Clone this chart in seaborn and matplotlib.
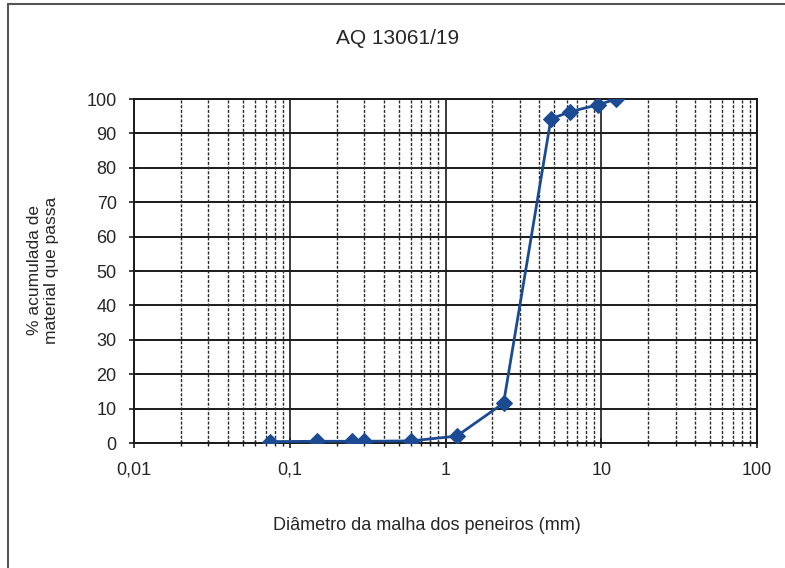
import numpy as np
import pandas as pd
import matplotlib
matplotlib.use("Agg")
import matplotlib.pyplot as plt
from matplotlib.lines import Line2D
from matplotlib.ticker import FixedLocator, FixedFormatter, LogLocator, NullFormatter
import seaborn as sns

# Sieve analysis: cumulative % passing for each sieve opening (mm)
sieve_mm = [0.075, 0.15, 0.25, 0.3, 0.6, 1.18, 2.36, 4.75, 6.3, 9.5, 12.5]
passing_pct = [0.4, 0.5, 0.5, 0.5, 0.6, 2.0, 11.6, 94.2, 96.3, 98.3, 100.0]

x_ticks = [0.01, 0.1, 1, 10, 100]
x_tick_labels = ["0,01", "0,1", "1", "10", "100"]
y_ticks = list(range(0, 101, 10))

title = "AQ 13061/19"
x_label = "Diâmetro da malha dos peneiros (mm)"
y_label = "% acumulada de\nmaterial que passa"

sns.set_style("white")
plt.rcParams["font.family"] = ["Liberation Sans", "DejaVu Sans"]

df = pd.DataFrame({"abertura": sieve_mm, "passante": passing_pct})

fig = plt.figure(figsize=(7.85, 5.68), dpi=100)
ax = fig.add_axes([134 / 785, 1 - 443 / 568, (757 - 134) / 785, (443 - 99) / 568])

ax.set_xscale("log")
ax.set_xlim(0.01, 100)
ax.set_ylim(0, 100)

# grid: solid horizontal and decade lines, dashed minor decade lines
for y in y_ticks:
    ax.axhline(y, color="#1a1a1a", lw=1.4, zorder=1)
for d in [0.01, 0.1, 1, 10, 100]:
    ax.axvline(d, color="#1a1a1a", lw=1.2, zorder=1)
for d in [0.01, 0.1, 1, 10]:
    for k in range(2, 10):
        ax.axvline(d * k, color="#2a2a2a", lw=1.0, ls=(0, (2.2, 1.2)), zorder=1)

sns.lineplot(data=df, x="abertura", y="passante", ax=ax, color="#1c4a93",
             lw=2.0, marker="D", markersize=8, markeredgecolor="#1c4a93",
             markerfacecolor="#1c4a93", zorder=3, sort=False)

ax.xaxis.set_major_locator(FixedLocator(x_ticks))
ax.xaxis.set_major_formatter(FixedFormatter(x_tick_labels))
ax.xaxis.set_minor_locator(LogLocator(base=10, subs=np.arange(2, 10), numticks=20))
ax.xaxis.set_minor_formatter(NullFormatter())
ax.set_yticks(y_ticks)
ax.set_yticklabels([str(v) for v in y_ticks])

ax.tick_params(axis="both", which="major", direction="inout", length=7, width=1.2,
               color="#1a1a1a", labelsize=13, pad=6, bottom=True, left=True)
ax.tick_params(axis="x", which="minor", direction="inout", length=4, width=1.0,
               color="#1a1a1a", bottom=True)
ax.tick_params(axis="y", which="major", pad=9)
ax.tick_params(axis="x", which="major", pad=10)

for s in ax.spines.values():
    s.set_color("#1a1a1a")
    s.set_linewidth(1.4)

ax.set_xlabel("")
ax.set_ylabel("")
fig.text(398 / 785, 1 - 38 / 568, title, ha="center", va="center", fontsize=15)
fig.text(427 / 785, 1 - 525 / 568, x_label, ha="center", va="center", fontsize=13)
fig.text(43 / 785, 1 - 270 / 568, y_label, ha="center", va="center", fontsize=12.5,
         rotation=90, linespacing=1.1)

# outer chart frame
fig.add_artist(Line2D([8 / 785, 1.0], [1 - 4 / 568, 1 - 4 / 568],
                      transform=fig.transFigure, color="#555555", lw=1.5))
fig.add_artist(Line2D([8 / 785, 8 / 785], [0.0, 1 - 4 / 568],
                      transform=fig.transFigure, color="#555555", lw=1.5))

fig.savefig("out.png", dpi=100, facecolor="white")
